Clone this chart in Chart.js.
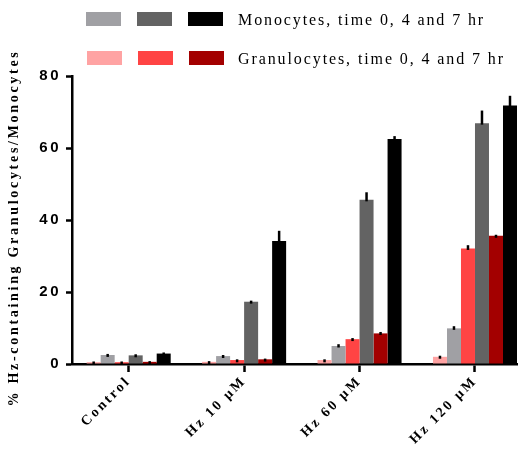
<!DOCTYPE html>
<html>
<head>
<meta charset="utf-8">
<script src="https://cdn.jsdelivr.net/npm/chart.js@4/dist/chart.umd.min.js"></script>
<style>
  html, body { margin: 0; padding: 0; background: #fff; overflow: hidden; }
  #wrap { width: 531px; height: 452px; position: relative; }
</style>
</head>
<body>
<div id="wrap"><canvas id="c" width="531" height="452"></canvas></div>
<script>
// Treatment groups on the x axis
const categories = ['Control', 'Hz 10 μM', 'Hz 60 μM', 'Hz 120 μM'];

// Mean % of Hz-containing cells (granulocytes / monocytes at 0, 4 and 7 hr)
const granT0 = [0.5, 0.6, 1.1, 2.0];
const monoT0 = [2.5, 2.2, 5.0, 9.9];
const granT4 = [0.5, 1.1, 6.9, 32.1];
const monoT4 = [2.4, 17.3, 45.6, 66.9];
const granT7 = [0.6, 1.3, 8.5, 35.6];
const monoT7 = [2.9, 34.2, 62.5, 71.8];

// Upper error (SEM)
const granT0Err = [0.2, 0.2, 0.2, 0.3];
const monoT0Err = [0.3, 0.3, 0.5, 0.6];
const granT4Err = [0.2, 0.2, 0.3, 0.9];
const monoT4Err = [0.3, 0.3, 2.1, 3.5];
const granT7Err = [0.2, 0.2, 0.4, 0.3];
const monoT7Err = [0.3, 2.8, 0.8, 2.7];

const yTicks = [0, 20, 40, 60, 80];

const legendRows = [
  { text: 'Monocytes, time 0, 4 and 7 hr', colors: ['#a0a0a4', '#636363', '#000000'] },
  { text: 'Granulocytes, time 0, 4 and 7 hr', colors: ['#ffa3a3', '#ff4444', '#a30000'] }
];

const TICK_SPACING = '2.5px';

function series(label, values, errors, color) {
  return {
    label,
    data: values.map((v, i) => ({ x: i, y: v })),
    errors,
    backgroundColor: color,
    borderWidth: 0
  };
}

// Keeps the spaced lettering on the tick labels (canvas state resets on resize)
const spacingPlugin = {
  id: 'spacing',
  beforeLayout(chart) { chart.ctx.letterSpacing = TICK_SPACING; },
  beforeDraw(chart) { chart.ctx.letterSpacing = TICK_SPACING; }
};

// Upper error bars above each bar
const errorBarPlugin = {
  id: 'errorBars',
  afterDatasetsDraw(chart) {
    const ctx = chart.ctx;
    const y = chart.scales.y;
    ctx.save();
    ctx.strokeStyle = '#000';
    ctx.lineWidth = 2.5;
    ctx.lineCap = 'butt';
    chart.data.datasets.forEach((ds, di) => {
      const meta = chart.getDatasetMeta(di);
      meta.data.forEach((bar, i) => {
        const v = ds.data[i].y;
        const top = y.getPixelForValue(v + ds.errors[i]);
        const start = Math.max(bar.y + 1.5, top + 3);
        ctx.beginPath();
        ctx.moveTo(bar.x, start);
        ctx.lineTo(bar.x, top);
        ctx.stroke();
      });
    });
    ctx.restore();
  }
};

// Two-row legend and the rotated y-axis title
const annotatePlugin = {
  id: 'annotate',
  afterDraw(chart) {
    const ctx = chart.ctx;
    ctx.save();
    ctx.letterSpacing = '1.9px';
    ctx.font = '16px "Liberation Serif", "Times New Roman", serif';
    ctx.textBaseline = 'middle';
    ctx.textAlign = 'left';
    ctx.fillStyle = '#000';
    const rowY = [12, 51];
    const boxX = [86, 137, 188];
    legendRows.forEach((row, r) => {
      row.colors.forEach((col, k) => {
        ctx.fillStyle = col;
        ctx.fillRect(boxX[k] + (r ? 1 : 0), rowY[r], 35, 14);
      });
      ctx.fillStyle = '#000';
      ctx.fillText(row.text, 238, rowY[r] + 9);
    });

    ctx.letterSpacing = '2.7px';
    ctx.font = 'bold 14px "Liberation Serif", "Times New Roman", serif';
    ctx.translate(14, 228);
    ctx.rotate(-Math.PI / 2);
    ctx.textAlign = 'center';
    ctx.textBaseline = 'middle';
    ctx.fillText('% Hz-containing Granulocytes/Monocytes', 0, 0);
    ctx.restore();
  }
};

new Chart(document.getElementById('c'), {
  type: 'bar',
  data: {
    datasets: [
      series('Granulocytes 0 hr', granT0, granT0Err, '#ffa3a3'),
      series('Monocytes 0 hr', monoT0, monoT0Err, '#a0a0a4'),
      series('Granulocytes 4 hr', granT4, granT4Err, '#ff4444'),
      series('Monocytes 4 hr', monoT4, monoT4Err, '#636363'),
      series('Granulocytes 7 hr', granT7, granT7Err, '#a30000'),
      series('Monocytes 7 hr', monoT7, monoT7Err, '#000000')
    ]
  },
  options: {
    responsive: false,
    animation: false,
    devicePixelRatio: 1,
    categoryPercentage: 0.728,
    barPercentage: 1,
    layout: { padding: { top: 76, right: 14, left: 0, bottom: 0 } },
    plugins: { legend: { display: false }, tooltip: { enabled: false } },
    scales: {
      x: {
        type: 'linear',
        offset: false,
        min: -0.491,
        max: 3.364,
        afterBuildTicks(scale) { scale.ticks = categories.map((c, i) => ({ value: i })); },
        afterFit(scale) { scale.height = 88; },
        grid: { offset: false, drawOnChartArea: false, drawTicks: true, tickLength: 8, tickWidth: 2.5, tickColor: '#000' },
        border: { display: true, color: '#000', width: 2.5 },
        ticks: {
          autoSkip: false,
          minRotation: 45,
          maxRotation: 45,
          padding: 1,
          color: '#000',
          font: { family: '"Liberation Serif", "Times New Roman", serif', size: 14, weight: 'bold' },
          callback: (v) => categories[v]
        }
      },
      y: {
        min: 0,
        max: 80,
        afterBuildTicks(scale) { scale.ticks = yTicks.map(v => ({ value: v })); },
        afterFit(scale) { scale.width = 72; },
        grid: { drawOnChartArea: false, drawTicks: true, tickLength: 6, tickWidth: 2.5, tickColor: '#000' },
        border: { display: true, color: '#000', width: 2.5 },
        ticks: {
          padding: 5,
          color: '#000',
          font: { family: '"Liberation Sans", Arial, sans-serif', size: 15, weight: 'bold' }
        }
      }
    }
  },
  plugins: [spacingPlugin, errorBarPlugin, annotatePlugin]
});
</script>
</body>
</html>
